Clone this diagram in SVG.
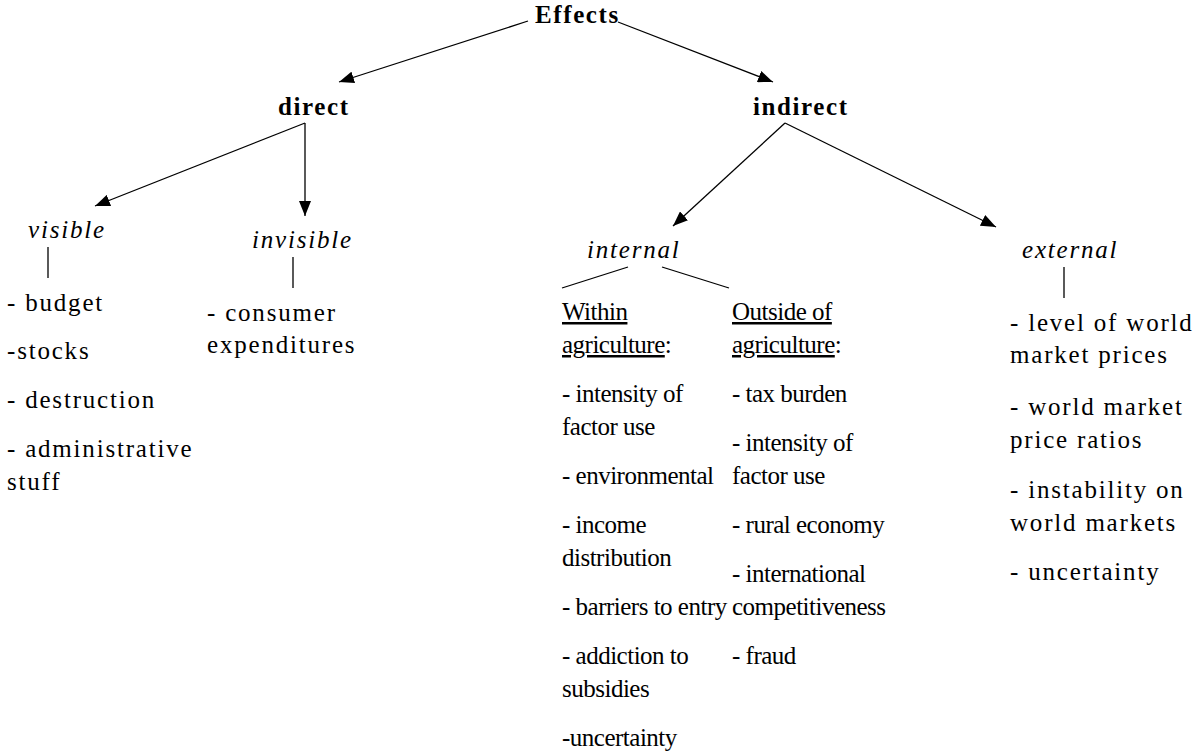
<svg xmlns="http://www.w3.org/2000/svg" width="1197" height="753" viewBox="0 0 1197 753">
<style>
text{font-family:"Liberation Serif","Times New Roman",serif;font-size:25px;letter-spacing:1.8px;fill:#000}
.b{font-weight:bold;letter-spacing:1.6px}
.i{font-style:italic}
.u{text-decoration:underline}
.n text{letter-spacing:-0.5px}
.c line{stroke:#000;stroke-width:1.3}
.a{marker-end:url(#ah)}
</style>
<defs>
<marker id="ah" markerUnits="userSpaceOnUse" markerWidth="16" markerHeight="12" refX="15" refY="6" orient="auto"><path d="M0,0 L15,6 L0,12 z" fill="#000"/></marker>
</defs>
<rect width="1197" height="753" fill="#fff"/>
<g id="connectors" class="c">
<line class="a" x1="528" y1="21" x2="339" y2="82"/>
<line class="a" x1="618" y1="22" x2="773" y2="82"/>
<line class="a" x1="305" y1="123" x2="95" y2="206"/>
<line class="a" x1="305" y1="123" x2="305" y2="216"/>
<line class="a" x1="785" y1="123" x2="673" y2="226"/>
<line class="a" x1="785" y1="123" x2="996" y2="227"/>
<line x1="48" y1="247" x2="48" y2="278"/>
<line x1="293" y1="257" x2="293" y2="288"/>
<line x1="628" y1="267" x2="562" y2="288"/>
<line x1="662" y1="267" x2="729" y2="288"/>
<line x1="1064" y1="267" x2="1064" y2="298"/>
</g>
<g id="effects"><text class="b" x="535" y="23">Effects</text></g>
<g id="direct"><text class="b" x="278" y="115">direct</text></g>
<g id="indirect"><text class="b" x="753" y="115">indirect</text></g>
<g id="visible"><text class="i" x="28" y="238">visible</text></g>
<g id="invisible"><text class="i" x="252" y="248">invisible</text></g>
<g id="internal"><text class="i" x="587" y="258">internal</text></g>
<g id="external"><text class="i" x="1022" y="258">external</text></g>
<g id="visible-list">
<text x="7" y="311">- budget</text>
<text x="7" y="359">-stocks</text>
<text x="7" y="408">- destruction</text>
<text x="7" y="457">- administrative</text>
<text x="7" y="490">stuff</text>
</g>
<g id="invisible-list">
<text x="207" y="321">- consumer</text>
<text x="207" y="353">expenditures</text>
</g>
<g id="within-list" class="n">
<text x="562" y="320"><tspan class="u">Within</tspan></text>
<text x="562" y="353"><tspan class="u">agriculture</tspan>:</text>
<text x="562" y="402">- intensity of</text>
<text x="562" y="435">factor use</text>
<text x="562" y="484">- environmental</text>
<text x="562" y="533">- income</text>
<text x="562" y="566">distribution</text>
<text x="562" y="615">- barriers to entry</text>
<text x="562" y="664">- addiction to</text>
<text x="562" y="697">subsidies</text>
<text x="562" y="746">-uncertainty</text>
</g>
<g id="outside-list" class="n">
<text x="732" y="320"><tspan class="u">Outside of</tspan></text>
<text x="732" y="353"><tspan class="u">agriculture</tspan>:</text>
<text x="732" y="402">- tax burden</text>
<text x="732" y="451">- intensity of</text>
<text x="732" y="484">factor use</text>
<text x="732" y="533">- rural economy</text>
<text x="732" y="582">- international</text>
<text x="732" y="615">competitiveness</text>
<text x="732" y="664">- fraud</text>
</g>
<g id="external-list">
<text x="1010" y="331">- level of world</text>
<text x="1010" y="363">market prices</text>
<text x="1010" y="415">- world market</text>
<text x="1010" y="448">price ratios</text>
<text x="1010" y="498">- instability on</text>
<text x="1010" y="531">world markets</text>
<text x="1010" y="580">- uncertainty</text>
</g>
</svg>
